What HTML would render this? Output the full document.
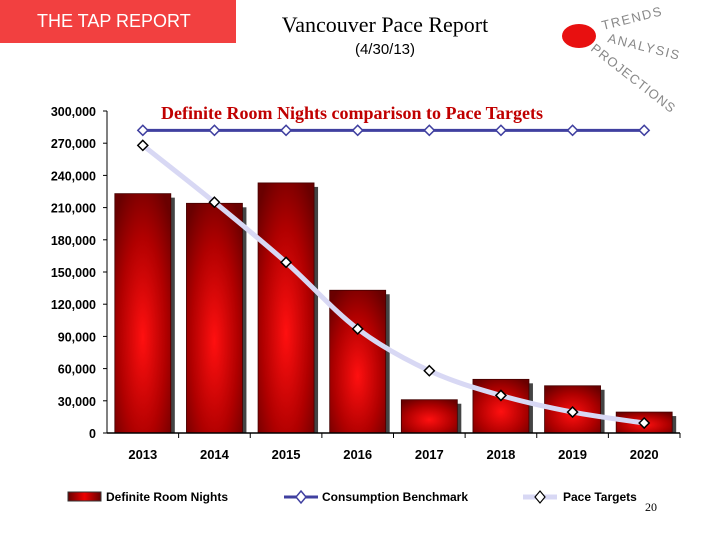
<!DOCTYPE html>
<html><head><meta charset="utf-8"><style>
body{margin:0;width:720px;height:540px;overflow:hidden;background:#fff;font-family:"Liberation Sans",sans-serif;position:relative}
.hdr{position:absolute;left:0;top:0;width:236px;height:43px;background:#f24040;color:#fff;font-size:18px;line-height:42px;padding-left:37px;box-sizing:border-box}
.t1{position:absolute;left:220px;width:330px;top:12px;text-align:center;font-family:"Liberation Serif",serif;font-size:22px}
.t2{position:absolute;left:220px;width:330px;top:41px;text-align:center;font-size:15px}
</style></head><body>
<div class="hdr">THE TAP REPORT</div>
<div class="t1">Vancouver Pace Report</div>
<div class="t2">(4/30/13)</div>
<svg width="720" height="540" style="position:absolute;left:0;top:0" id="c">
<defs>
<radialGradient id="bg" cx="0.5" cy="0.6" r="0.7"><stop offset="0" stop-color="#ff1010"/><stop offset="0.6" stop-color="#b00000"/><stop offset="1" stop-color="#6a0000"/></radialGradient>
<linearGradient id="lg" x1="0" x2="1"><stop offset="0" stop-color="#600"/><stop offset="0.5" stop-color="#e00"/><stop offset="1" stop-color="#600"/></linearGradient>
</defs>
<g>
<ellipse cx="579" cy="36" rx="17" ry="12" fill="#e81010"/>
<text x="603" y="30" font-size="13" fill="#888" transform="rotate(-14 603 30)" letter-spacing="1.5">TRENDS</text>
<text x="607" y="42" font-size="13" fill="#888" transform="rotate(14 607 42)" letter-spacing="1.5">ANALYSIS</text>
<text x="590" y="50" font-size="13" fill="#888" transform="rotate(38 590 50)" letter-spacing="1">PROJECTIONS</text>
</g>
<text x="352" y="119" text-anchor="middle" font-family="Liberation Serif,serif" font-weight="bold" font-size="18" fill="#c00000">Definite Room Nights comparison to Pace Targets</text>
<g id="plot"></g>
<g font-weight="bold" font-size="12">
<rect x="68" y="492" width="33" height="9" fill="url(#lg)" stroke="#333" stroke-width="1"/>
<text x="106" y="501">Definite Room Nights</text>
<line x1="284" y1="497" x2="318" y2="497" stroke="#4040a0" stroke-width="3"/>
<path d="M301 491 L306 497 L301 503 L296 497Z" fill="#fff" stroke="#4040a0" stroke-width="1.5"/>
<text x="322" y="501">Consumption Benchmark</text>
<line x1="523" y1="497" x2="557" y2="497" stroke="#d8d8f4" stroke-width="5"/>
<path d="M540 491 L545 497 L540 503 L535 497Z" fill="#fff" stroke="#000" stroke-width="1.2"/>
<text x="563" y="501">Pace Targets</text>
</g>
<text x="645" y="511" font-family="Liberation Serif,serif" font-size="12">20</text>
</svg>
<script>
const categories=["2013","2014","2015","2016","2017","2018","2019","2020"];
const definiteRoomNights=[223000,214000,233000,133000,31000,50000,44000,19500];
const consumptionBenchmark=[282000,282000,282000,282000,282000,282000,282000,282000];
const paceTargets=[268000,215000,159000,97000,58000,35000,19500,9300];
const yTicks=[0,30000,60000,90000,120000,150000,180000,210000,240000,270000,300000];
const NS="http://www.w3.org/2000/svg";
const g=document.getElementById('plot');
const x0=107,x1=680,yb=433,yt=111;
const band=(x1-x0)/categories.length;
const X=i=>x0+band*(i+0.5);
const Y=v=>yb-(v/300000)*(yb-yt);
function mk(t,a){const e=document.createElementNS(NS,t);for(const k in a)e.setAttribute(k,a[k]);g.appendChild(e);return e;}
yTicks.forEach(v=>{
 const t=mk('text',{x:96,y:Y(v)+5,'text-anchor':'end','font-size':12.5,'font-weight':'bold'});
 t.textContent=v.toLocaleString('en-US');
 
 
 mk('line',{x1:x0-4,x2:x0,y1:Y(v),y2:Y(v),stroke:'#000'});
});
definiteRoomNights.forEach((v,i)=>{
 const w=56,l=X(i)-w/2;
 mk('rect',{x:l+4,y:Y(v)+4,width:w,height:yb-Y(v)-4,fill:'#444'});
 const r=mk('rect',{x:l,y:Y(v),width:w,height:yb-Y(v),fill:'url(#bg)',stroke:'#400',"stroke-width":0.8});
 
 
});
mk('line',{x1:x0,x2:x0,y1:yt,y2:yb,stroke:'#000'});
mk('line',{x1:x0,x2:x1,y1:yb,y2:yb,stroke:'#000','stroke-width':1.5});
categories.forEach((c,i)=>{
 mk('line',{x1:x0+band*(i+1),x2:x0+band*(i+1),y1:yb,y2:yb+5,stroke:'#000'});
 const t=mk('text',{x:X(i),y:459,'text-anchor':'middle','font-size':13,'font-weight':'bold'});
 t.textContent=c;
 
 
});
function smooth(pts){let d='M'+pts[0][0]+' '+pts[0][1];for(let i=0;i<pts.length-1;i++){const p0=pts[i-1]||pts[i],p1=pts[i],p2=pts[i+1],p3=pts[i+2]||p2;d+=` C${p1[0]+(p2[0]-p0[0])/6} ${p1[1]+(p2[1]-p0[1])/6} ${p2[0]-(p3[0]-p1[0])/6} ${p2[1]-(p3[1]-p1[1])/6} ${p2[0]} ${p2[1]}`;}return d;}
const pp=paceTargets.map((v,i)=>[X(i),Y(v)]);
const pl=mk('path',{d:smooth(pp),fill:'none',stroke:'#d8d8f4','stroke-width':5});


const bp=consumptionBenchmark.map((v,i)=>[X(i),Y(v)]);
const bl=mk('polyline',{points:bp.map(p=>p.join(',')).join(' '),fill:'none',stroke:'#4040a0','stroke-width':3});


function dia(p,s,n){const e=mk('path',{d:`M${p[0]} ${p[1]-5}L${p[0]+5} ${p[1]}L${p[0]} ${p[1]+5}L${p[0]-5} ${p[1]}Z`,fill:'#fff',stroke:s,'stroke-width':1.5});
 
 }
bp.forEach(p=>dia(p,'#4040a0','benchmark-point'));
pp.forEach(p=>dia(p,'#000','pace-target-point'));
</script>
</body></html>
